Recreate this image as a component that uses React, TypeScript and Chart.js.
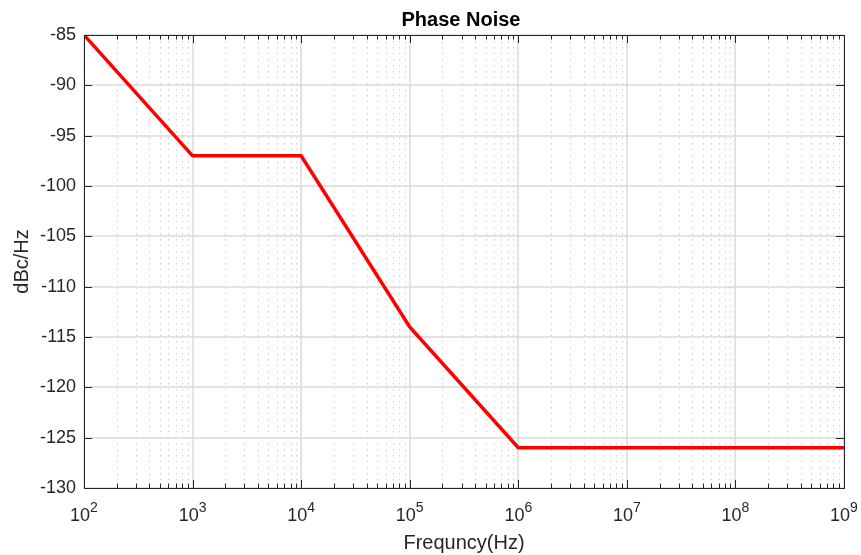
import React, { useEffect, useRef } from "react";
import { Chart, registerables } from "chart.js";

Chart.register(...registerables);

// ---- Data ----
const frequencies = [1e2, 1e3, 1e4, 1e5, 1e6, 1e9];
const phaseNoise = [-85, -97, -97, -114, -126, -126];
const xTickExponents = [2, 3, 4, 5, 6, 7, 8, 9];
const xMinorMultipliers = [2, 3, 4, 5, 6, 7, 8, 9];
const yTicks = [-130, -125, -120, -115, -110, -105, -100, -95, -90, -85];
const titleText = "Phase Noise";
const xLabelText = "Frequncy(Hz)";
const yLabelText = "dBc/Hz";

const FONT = "'Liberation Sans', Arial, Helvetica, sans-serif";
const AXIS_COLOR = "#262626";

const matlabAxesPlugin = {
  id: "matlabAxes",
  beforeDatasetsDraw(chart: any) {
    const { ctx, chartArea, scales } = chart;
    const { left, right, top, bottom } = chartArea;
    const x = scales.x;
    const y = scales.y;
    ctx.save();
    // minor x grid (dotted)
    ctx.strokeStyle = "#cfcfcf";
    ctx.lineWidth = 1;
    ctx.setLineDash([1.5, 4.5]);
    for (let i = 0; i < xTickExponents.length - 1; i++) {
      const base = Math.pow(10, xTickExponents[i]);
      for (const m of xMinorMultipliers) {
        const px = Math.round(x.getPixelForValue(m * base)) + 0.5;
        ctx.beginPath();
        ctx.moveTo(px, top);
        ctx.lineTo(px, bottom);
        ctx.stroke();
      }
    }
    // major grid
    ctx.setLineDash([]);
    ctx.strokeStyle = "#dadada";
    ctx.lineWidth = 1.5;
    for (const e of xTickExponents) {
      const px = Math.round(x.getPixelForValue(Math.pow(10, e)));
      ctx.beginPath();
      ctx.moveTo(px, top);
      ctx.lineTo(px, bottom);
      ctx.stroke();
    }
    for (const v of yTicks) {
      const py = Math.round(y.getPixelForValue(v));
      ctx.beginPath();
      ctx.moveTo(left, py);
      ctx.lineTo(right, py);
      ctx.stroke();
    }
    ctx.restore();
  },
  afterDatasetsDraw(chart: any) {
    const { ctx, chartArea, scales } = chart;
    const { left, right, top, bottom } = chartArea;
    const x = scales.x;
    const y = scales.y;
    ctx.save();
    ctx.strokeStyle = AXIS_COLOR;
    ctx.lineWidth = 1;
    ctx.setLineDash([]);
    // box
    ctx.strokeRect(Math.round(left) + 0.5, Math.round(top) + 0.5, Math.round(right - left), Math.round(bottom - top));
    const majorLen = 8;
    const minorLen = 4.5;
    // x ticks (bottom and top, inward)
    for (let i = 0; i < xTickExponents.length; i++) {
      const base = Math.pow(10, xTickExponents[i]);
      const px = Math.round(x.getPixelForValue(base)) + 0.5;
      ctx.beginPath();
      ctx.moveTo(px, bottom);
      ctx.lineTo(px, bottom - majorLen);
      ctx.moveTo(px, top);
      ctx.lineTo(px, top + majorLen);
      ctx.stroke();
      if (i < xTickExponents.length - 1) {
        for (const m of xMinorMultipliers) {
          const mx = Math.round(x.getPixelForValue(m * base)) + 0.5;
          ctx.beginPath();
          ctx.moveTo(mx, bottom);
          ctx.lineTo(mx, bottom - minorLen);
          ctx.moveTo(mx, top);
          ctx.lineTo(mx, top + minorLen);
          ctx.stroke();
        }
      }
    }
    // y ticks (left and right, inward)
    for (const v of yTicks) {
      const py = Math.round(y.getPixelForValue(v)) + 0.5;
      ctx.beginPath();
      ctx.moveTo(left, py);
      ctx.lineTo(left + majorLen, py);
      ctx.moveTo(right, py);
      ctx.lineTo(right - majorLen, py);
      ctx.stroke();
    }
    // x tick labels 10^n
    ctx.fillStyle = AXIS_COLOR;
    ctx.textBaseline = "alphabetic";
    ctx.textAlign = "left";
    for (const e of xTickExponents) {
      const px = x.getPixelForValue(Math.pow(10, e));
      ctx.font = `18px ${FONT}`;
      const w1 = ctx.measureText("10").width;
      ctx.font = `14px ${FONT}`;
      const w2 = ctx.measureText(String(e)).width;
      const sx = px - (w1 + w2) / 2;
      ctx.font = `18px ${FONT}`;
      ctx.fillText("10", sx, 521);
      ctx.font = `14px ${FONT}`;
      ctx.fillText(String(e), sx + w1, 512);
    }
    // title
    const cx = (left + right) / 2;
    ctx.textAlign = "center";
    ctx.fillStyle = "#000000";
    ctx.font = `bold 20px ${FONT}`;
    ctx.fillText(titleText, cx - 3, 26);
    // x label
    ctx.fillStyle = AXIS_COLOR;
    ctx.font = `20px ${FONT}`;
    ctx.fillText(xLabelText, cx, 549);
    // y label
    ctx.translate(28, (top + bottom) / 2);
    ctx.rotate(-Math.PI / 2);
    ctx.fillText(yLabelText, 0, 0);
    ctx.restore();
  },
};

export default function App() {
  const canvasRef = useRef<HTMLCanvasElement | null>(null);

  useEffect(() => {
    const canvas = canvasRef.current;
    if (!canvas) return;
    const chart = new Chart(canvas, {
      type: "line",
      data: {
        datasets: [
          {
            label: "Phase Noise",
            data: frequencies.map((f, i) => ({ x: f, y: phaseNoise[i] })),
            borderColor: "#ff0000",
            backgroundColor: "#ff0000",
            borderWidth: 3.5,
            pointRadius: 0,
            tension: 0,
            fill: false,
          },
        ],
      },
      options: {
        responsive: false,
        animation: false,
        devicePixelRatio: 1,
        layout: { padding: { left: 0, right: 17, top: 35, bottom: 0 } },
        plugins: {
          legend: { display: false },
          title: { display: false },
          tooltip: { enabled: false },
        },
        scales: {
          x: {
            type: "logarithmic",
            min: 1e2,
            max: 1e9,
            grid: { display: false },
            border: { display: false },
            ticks: { display: false },
            afterFit: (scale: any) => {
              scale.height = 67;
            },
          },
          y: {
            type: "linear",
            min: -130,
            max: -85,
            grid: { display: false, drawTicks: false },
            border: { display: false },
            ticks: {
              stepSize: 5,
              padding: 8,
              color: AXIS_COLOR,
              font: { family: FONT, size: 18 },
            },
            afterBuildTicks: (scale: any) => {
              scale.ticks = yTicks.map((v) => ({ value: v }));
            },
            afterFit: (scale: any) => {
              scale.width = 84;
            },
          },
        },
      },
      plugins: [matlabAxesPlugin],
    });
    return () => chart.destroy();
  }, []);

  return (
    <div style={{ position: "absolute", left: 0, top: 0, width: 861, height: 555, background: "#ffffff" }}>
      <canvas ref={canvasRef} width={861} height={555} style={{ display: "block" }} />
    </div>
  );
}
